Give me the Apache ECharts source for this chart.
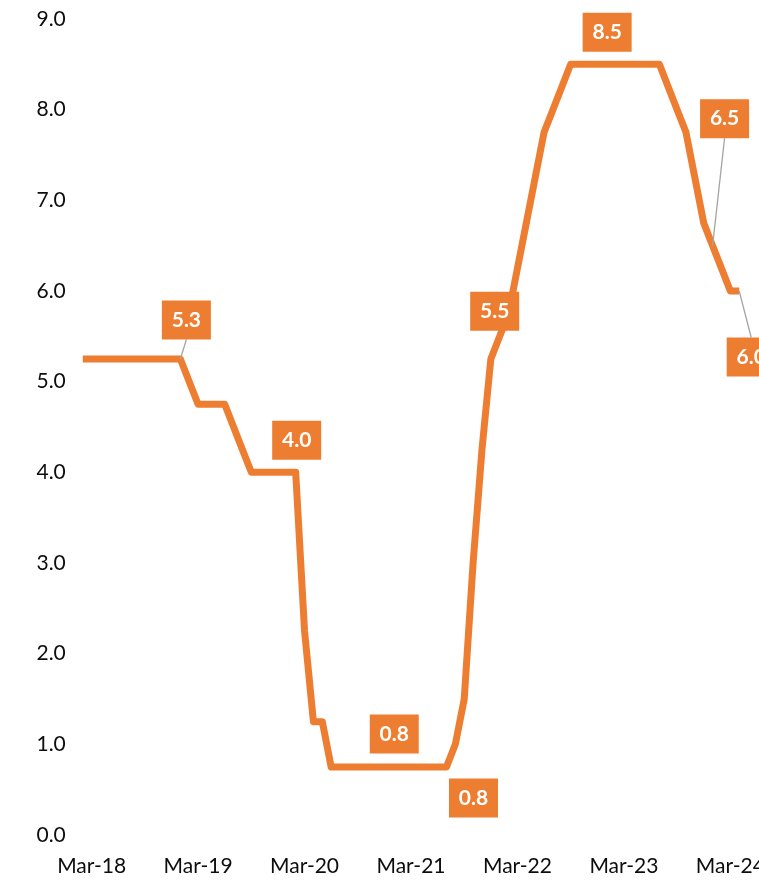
<!DOCTYPE html>
<html>
<head>
<meta charset="utf-8">
<script src="https://cdn.jsdelivr.net/npm/echarts@6/dist/echarts.min.js"></script>
<style>
  html, body { margin: 0; padding: 0; background: #ffffff; }
  #chart { width: 759px; height: 881px; }
</style>
</head>
<body>
<div id="chart"></div>
<script>
// Monthly policy rate, Feb-18 to Apr-24
const months = [
  'Feb-18','Mar-18','Apr-18','May-18','Jun-18','Jul-18','Aug-18','Sep-18','Oct-18','Nov-18','Dec-18',
  'Jan-19','Feb-19','Mar-19','Apr-19','May-19','Jun-19','Jul-19','Aug-19','Sep-19','Oct-19','Nov-19','Dec-19',
  'Jan-20','Feb-20','Mar-20','Apr-20','May-20','Jun-20','Jul-20','Aug-20','Sep-20','Oct-20','Nov-20','Dec-20',
  'Jan-21','Feb-21','Mar-21','Apr-21','May-21','Jun-21','Jul-21','Aug-21','Sep-21','Oct-21','Nov-21','Dec-21',
  'Jan-22','Feb-22','Mar-22','Apr-22','May-22','Jun-22','Jul-22','Aug-22','Sep-22','Oct-22','Nov-22','Dec-22',
  'Jan-23','Feb-23','Mar-23','Apr-23','May-23','Jun-23','Jul-23','Aug-23','Sep-23','Oct-23','Nov-23','Dec-23',
  'Jan-24','Feb-24','Mar-24','Apr-24'
];

const rate = [
  5.25, 5.25, 5.25, 5.25, 5.25, 5.25, 5.25, 5.25, 5.25, 5.25, 5.25,
  5.25, 5.00, 4.75, 4.75, 4.75, 4.75, 4.50, 4.25, 4.00, 4.00, 4.00, 4.00,
  4.00, 4.00, 2.25, 1.25, 1.25, 0.75, 0.75, 0.75, 0.75, 0.75, 0.75, 0.75,
  0.75, 0.75, 0.75, 0.75, 0.75, 0.75, 0.75, 1.00, 1.50, 3.00, 4.25, 5.25,
  5.50, 5.75, 6.25, 6.75, 7.25, 7.75, 8.00, 8.25, 8.50, 8.50, 8.50, 8.50,
  8.50, 8.50, 8.50, 8.50, 8.50, 8.50, 8.50, 8.25, 8.00, 7.75, 7.25, 6.75,
  6.50, 6.25, 6.00, 6.00
];

// Months that carry a value callout
const calloutMonths = ['Jan-19', 'Feb-20', 'Jan-21', 'Jul-21', 'Jan-22', 'Jan-23', 'Jan-24', 'Apr-24'];

// Axis tick labels shown (one per year)
const tickMonths = ['Mar-18', 'Mar-19', 'Mar-20', 'Mar-21', 'Mar-22', 'Mar-23', 'Mar-24'];

// Callout placement relative to its point: [dx, dy] in px, and whether a leader is drawn
const calloutPlacement = {
  'Jan-19': { off: [6, -39],    leader: true },
  'Feb-20': { off: [1, -32],    leader: false },
  'Jan-21': { off: [1, -33],    leader: false },
  'Jul-21': { off: [27, 31],    leader: false },
  'Jan-22': { off: [-5, -25],   leader: false },
  'Jan-23': { off: [1, -32],    leader: false },
  'Jan-24': { off: [12, -127],  leader: true },
  'Apr-24': { off: [12, 66],    leader: true }
};

const ORANGE = '#ED7D31';
const FONT = 'Lato';
const BOX_W = 49, BOX_H = 39;

const seriesData = rate.map((v, i) => {
  const m = months[i];
  if (calloutMonths.indexOf(m) < 0) return { value: v };
  const p = calloutPlacement[m];
  return {
    value: v,
    label: {
      show: true,
      position: 'inside',
      offset: p.off,
      formatter: (params) => params.value.toFixed(1)
    }
  };
});

const chart = echarts.init(document.getElementById('chart'), null, { renderer: 'canvas' });

chart.setOption({
  animation: false,
  backgroundColor: '#ffffff',
  grid: {
    left: 82.8,
    right: 19.8,
    top: 19,
    bottom: 46,
    containLabel: false,
    outerBoundsMode: 'none'
  },
  xAxis: {
    type: 'category',
    data: months,
    boundaryGap: false,
    axisLine: { show: false },
    axisTick: { show: false },
    splitLine: { show: false },
    axisLabel: {
      interval: (idx, val) => tickMonths.indexOf(val) >= 0,
      color: '#0d0d0d',
      fontFamily: FONT,
      fontSize: 21,
      margin: 21
    }
  },
  yAxis: {
    type: 'value',
    min: 0,
    max: 9,
    interval: 1,
    axisLine: { show: false },
    axisTick: { show: false },
    splitLine: { show: false },
    axisLabel: {
      formatter: (v) => v.toFixed(1),
      color: '#0d0d0d',
      fontFamily: FONT,
      fontSize: 21,
      margin: 17
    }
  },
  series: [{
    type: 'line',
    data: seriesData,
    showSymbol: true,
    showAllSymbol: true,
    symbol: 'circle',
    symbolSize: 0.01,
    itemStyle: { color: ORANGE },
    lineStyle: { color: ORANGE, width: 7, cap: 'butt', join: 'round' },
    label: {
      show: false,
      color: '#ffffff',
      fontFamily: FONT,
      fontWeight: 'bold',
      fontSize: 21,
      lineHeight: 22,
      backgroundColor: ORANGE,
      width: BOX_W - 18,
      height: BOX_H - 16,
      padding: [8, 9],
      align: 'center',
      verticalAlign: 'middle'
    },
    z: 2
  }]
});

// Leader lines from each point to the nearer horizontal edge of its callout box
const leaders = [];
calloutMonths.forEach((m) => {
  const p = calloutPlacement[m];
  if (!p.leader) return;
  const idx = months.indexOf(m);
  const pt = chart.convertToPixel({ seriesIndex: 0 }, [idx, rate[idx]]);
  const cx = pt[0] + p.off[0];
  const cy = pt[1] + p.off[1];
  const ey = p.off[1] < 0 ? cy + BOX_H / 2 : cy - BOX_H / 2;
  leaders.push({
    type: 'line',
    z: 10,
    shape: { x1: pt[0], y1: pt[1], x2: cx, y2: ey },
    style: { stroke: '#A5A5A5', lineWidth: 1.3 }
  });
});
chart.setOption({ graphic: leaders });
</script>
</body>
</html>
